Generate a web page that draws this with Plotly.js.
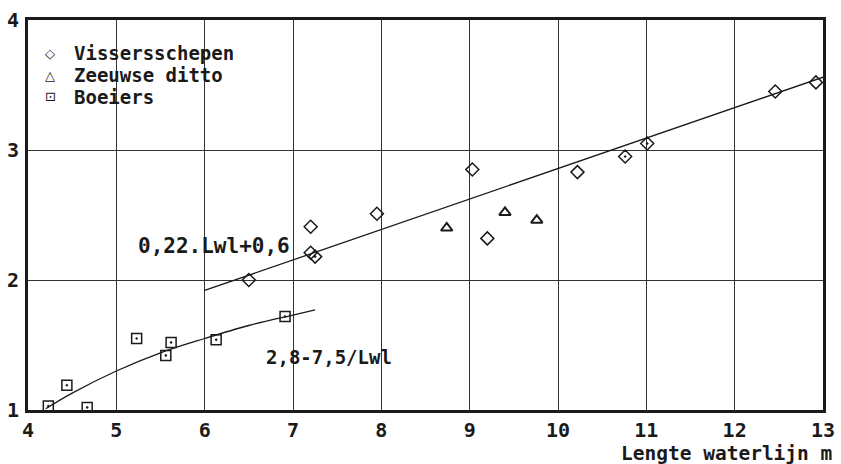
<!DOCTYPE html>
<html><head><meta charset="utf-8">
<script src="https://cdn.plot.ly/plotly-3.0.1.min.js"></script>
<style>html,body{margin:0;padding:0;background:#fff}#c{width:841px;height:464px}</style>
</head><body><div id="c"></div>
<script>
// Data
const vissersX = [6.5, 7.2, 7.2, 7.25, 7.95, 9.03, 9.2, 10.22, 10.76, 11.01, 12.46, 12.92];
const vissersY = [2.0, 2.41, 2.21, 2.18, 2.51, 2.85, 2.32, 2.83, 2.95, 3.05, 3.45, 3.52];
const zeeuwseX = [8.74, 9.40, 9.76];
const zeeuwseY = [2.40, 2.52, 2.46];
const boeiersX = [4.23, 4.44, 4.67, 5.23, 5.56, 5.62, 6.13, 6.91];
const boeiersY = [1.03, 1.19, 1.02, 1.55, 1.42, 1.52, 1.54, 1.72];
const lineX = [6, 13];
const lineY = [1.92, 3.56];
const curveX = [4.2, 4.5, 5.0, 5.5, 6.0, 6.5, 7.0, 7.25];
const curveY = [1.01, 1.13, 1.30, 1.44, 1.55, 1.65, 1.73, 1.77];
const xTicks = [4, 5, 6, 7, 8, 9, 10, 11, 12, 13];
const yTicks = [1, 2, 3, 4];
const seriesNames = ['Vissersschepen', 'Zeeuwse ditto', 'Boeiers'];
const legendGlyphs = ['◇', '△', '⊡'];

const FONT = 'DejaVu Sans Mono, monospace';
const INK = '#1a1a1a';

const vissersSymbols = vissersX.map((v, i) => ([3, 8, 9].includes(i) ? 'diamond-open-dot' : 'diamond-open'));

const traces = [
  {x: lineX, y: lineY, mode: 'lines', line: {color: INK, width: 1.3}, showlegend: false, hoverinfo: 'skip'},
  {x: curveX, y: curveY, mode: 'lines', line: {color: INK, width: 1.3, shape: 'spline'}, showlegend: false, hoverinfo: 'skip'},
  {x: vissersX, y: vissersY, mode: 'markers', name: seriesNames[0], showlegend: false,
   marker: {symbol: vissersSymbols, size: 10, color: INK, line: {width: 1.5, color: INK}}},
  {x: zeeuwseX, y: zeeuwseY, mode: 'markers', name: seriesNames[1], showlegend: false,
   marker: {symbol: 'triangle-up-open', size: 10, color: INK, line: {width: 2, color: INK}}},
  {x: boeiersX, y: boeiersY, mode: 'markers', name: seriesNames[2], showlegend: false,
   marker: {symbol: 'square-open-dot', size: 10, color: INK, line: {width: 1.5, color: INK}}}
];

// plot area: top 20px, height 390px
const pyToPaper = py => (410 - py) / 390;
const pxToPaper = px => (px - 28) / 795;
const legendRows = [53, 75, 97];

const annotations = [
  {x: 6.1, y: 2.26, xref: 'x', yref: 'y', text: '0,22.Lwl+0,6', showarrow: false,
   font: {family: FONT, size: 21, weight: 'bold', color: INK}},
  {x: 7.41, y: 1.41, xref: 'x', yref: 'y', text: '2,8-7,5/Lwl', showarrow: false,
   font: {family: FONT, size: 19, weight: 'bold', color: INK}},
  {x: 1, y: 0, xref: 'paper', yref: 'paper', xanchor: 'right', yanchor: 'top', yshift: -30, xshift: 11,
   text: 'Lengte waterlijn m', showarrow: false,
   font: {family: FONT, size: 19.5, weight: 'bold', color: INK}}
];
seriesNames.forEach((name, i) => {
  annotations.push({x: pxToPaper(50), y: pyToPaper(legendRows[i]), xref: 'paper', yref: 'paper',
    xanchor: 'center', yanchor: 'middle', text: legendGlyphs[i], showarrow: false,
    font: {family: 'DejaVu Sans', size: 13, color: INK}});
  annotations.push({x: pxToPaper(72), y: pyToPaper(legendRows[i]), xref: 'paper', yref: 'paper',
    xanchor: 'left', yanchor: 'middle', text: name, showarrow: false,
    font: {family: FONT, size: 19, weight: 'bold', color: INK}});
});

const layout = {
  width: 841, height: 464,
  margin: {l: 28, r: 18, t: 20, b: 54},
  paper_bgcolor: '#fff', plot_bgcolor: '#fff',
  font: {family: FONT, color: INK, size: 17},
  showlegend: false,
  xaxis: {range: [4, 13], tickvals: xTicks, ticktext: xTicks.map(String), showgrid: true,
          gridcolor: '#333', gridwidth: 1, zeroline: false, showline: true, mirror: true,
          linecolor: INK, linewidth: 3, ticks: '', tickfont: {family: FONT, size: 20, weight: 'bold'},
          fixedrange: true},
  yaxis: {range: [1, 4], tickvals: yTicks, ticktext: yTicks.map(String), showgrid: true,
          gridcolor: '#333', gridwidth: 1, zeroline: false, showline: true, mirror: true,
          linecolor: INK, linewidth: 3, ticks: '', ticklabelstandoff: 2,
          tickfont: {family: FONT, size: 20, weight: 'bold'}, fixedrange: true},
  shapes: [
    {type: 'rect', xref: 'paper', yref: 'paper', layer: 'between',
     x0: pxToPaper(30), x1: pxToPaper(245), y0: pyToPaper(108), y1: pyToPaper(40),
     fillcolor: '#fff', line: {width: 0}}
  ],
  annotations: annotations
};

Plotly.newPlot('c', traces, layout, {displayModeBar: false, staticPlot: true});
</script></body></html>
